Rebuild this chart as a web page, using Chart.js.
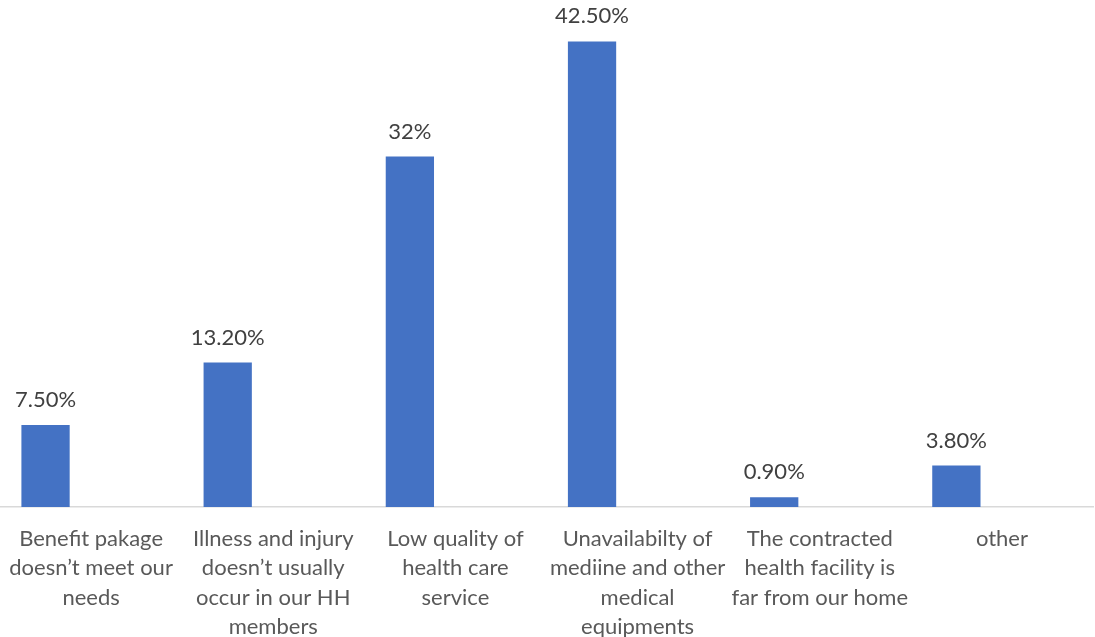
<!DOCTYPE html>
<html>
<head>
<meta charset="utf-8">
<script src="https://cdn.jsdelivr.net/npm/chart.js@4"></script>
<style>
  html, body { margin: 0; padding: 0; background: #fff; }
  #wrap { width: 1095px; height: 637px; }
</style>
</head>
<body>
<div id="wrap"><canvas id="myChart" width="1095" height="637"></canvas></div>
<script>
// chart data
const categories = [
    ["Benefit pakage", "doesn\u2019t meet our", "needs"],
    ["Illness and injury", "doesn\u2019t usually", "occur in our HH", "members"],
    ["Low quality of", "health care", "service"],
    ["Unavailabilty of", "mediine and other", "medical", "equipments"],
    ["The contracted", "health facility is", "far from our home"],
    ["other"]
];
const values = [7.5, 13.2, 32, 42.5, 0.9, 3.8];
const valueLabels = ["7.50%", "13.20%", "32%", "42.50%", "0.90%", "3.80%"];

// draws the value above each bar
const barLabels = {
    id: 'barLabels',
    afterDatasetsDraw(chart) {
        const ctx = chart.ctx;
        const meta = chart.getDatasetMeta(0);
        ctx.save();
        ctx.font = '22px Lato';
        ctx.fillStyle = '#404040';
        ctx.textAlign = 'center';
        ctx.textBaseline = 'middle';
        meta.data.forEach((bar, i) => {
            ctx.fillText(valueLabels[i], bar.x, bar.y - 25);
        });
        ctx.restore();
    }
};

const ctx = document.getElementById('myChart').getContext('2d');

const chart = new Chart(ctx, {
    type: 'bar',
    data: {
        labels: categories,
        datasets: [
            {
                label: 'Percentage',
                data: values,
                backgroundColor: '#4472C4',
                barPercentage: 0.53,
                categoryPercentage: 1.0,
            },
            {
                // empty second series, keeps the bars on the left of each slot
                label: '',
                data: values.map(() => null),
                backgroundColor: 'rgba(0,0,0,0)',
                barPercentage: 0.53,
                categoryPercentage: 1.0,
            },
        ],
    },
    plugins: [barLabels],
    options: {
        responsive: false,
        animation: false,
        layout: { padding: { top: 14, right: 2, left: 0, bottom: -5 } },
        plugins: {
            legend: { display: false },
            tooltip: { enabled: false },
        },
        scales: {
            x: {
                // tick marks hidden, tickLength only spaces the labels from the axis
                grid: { display: false, drawTicks: true, tickLength: 17 },
                border: { display: true, color: '#d9d9d9', width: 1.5 },
                ticks: {
                    color: '#595959',
                    font: { family: 'Lato', size: 22, lineHeight: 1.34 },
                    padding: 0,
                    maxRotation: 0,
                    autoSkip: false,
                },
            },
            y: {
                display: false,
                min: 0,
                max: 45,
            },
        },
    },
});
</script>
</body>
</html>
